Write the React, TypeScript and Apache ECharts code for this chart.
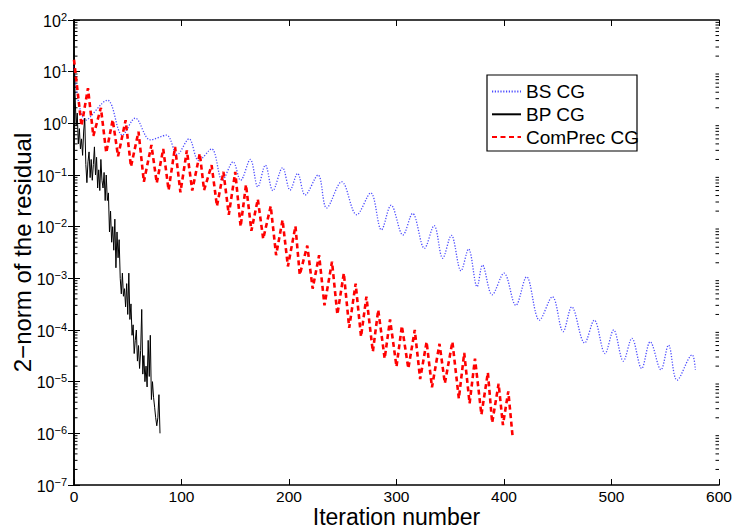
import React, { useEffect, useRef } from "react";
import * as echarts from "echarts";

const FONT = "Liberation Sans, Arial, Helvetica, sans-serif";

// x-axis ticks (iteration number)
const xTicks = [0, 100, 200, 300, 400, 500, 600];
// y-axis decades
const yMin = 1e-7;
const yMax = 1e2;

// BS CG (blue dotted) — peaks / troughs
const bsIter = [0, 11, 31, 45, 57, 71, 86, 96, 107, 116, 128, 138, 148, 155, 164, 171, 178, 185, 194, 201, 208, 215, 227, 235, 249, 263, 276, 286, 295, 306, 315, 326, 335, 343, 351, 360, 367, 375, 380, 389, 400, 411, 421, 433, 445, 455, 463, 475, 484, 494, 502, 511, 519, 528, 536, 546, 553, 561, 575, 578];
const bsRes = [12.6, 1.15, 2.8, 0.59, 1.26, 0.48, 0.59, 0.25, 0.5, 0.19, 0.32, 0.079, 0.18, 0.079, 0.2, 0.059, 0.155, 0.05, 0.138, 0.051, 0.107, 0.041, 0.1, 0.023, 0.074, 0.017, 0.045, 0.0087, 0.026, 0.0069, 0.018, 0.0038, 0.0105, 0.00245, 0.0068, 0.0014, 0.0037, 6.9e-4, 0.0018, 4.8e-4, 0.00126, 3.0e-4, 0.00107, 1.55e-4, 4.4e-4, 9.3e-5, 2.8e-4, 5.6e-5, 1.55e-4, 3.5e-5, 1.0e-4, 2.5e-5, 6.9e-5, 1.8e-5, 5.9e-5, 1.7e-5, 5.1e-5, 1.07e-5, 3.3e-5, 1.7e-5];

// BP CG (black solid) — one value per iteration 0..80
const bpRes = [22.4, 3.55, 0.89, 1.58, 0.4, 0.79, 0.32, 0.5, 0.24, 0.71, 1.26, 0.16, 0.071, 0.18, 0.28, 0.089, 0.2, 0.079, 0.16, 0.35, 0.1, 0.22, 0.056, 0.126, 0.05, 0.2, 0.079, 0.056, 0.112, 0.032, 0.1, 0.032, 0.045, 0.0079, 0.02, 0.005, 0.01, 0.0035, 0.014, 0.0016, 0.0079, 0.0025, 0.0056, 0.001, 5.0e-4, 1.26e-3, 4.5e-4, 6.3e-4, 2.8e-4, 7.9e-4, 2.0e-4, 1.26e-3, 1.6e-4, 3.2e-4, 7.9e-5, 1.26e-4, 3.5e-5, 6.3e-5, 1.0e-4, 2.5e-5, 5.0e-5, 1.8e-5, 4.0e-5, 2.5e-4, 1.4e-5, 3.2e-5, 1.0e-5, 2.0e-5, 7.9e-6, 6.3e-5, 1.26e-5, 7.9e-5, 4.5e-6, 1.0e-5, 5.0e-6, 3.2e-6, 2.0e-6, 1.4e-6, 2.0e-6, 5.6e-6, 1.0e-6];

// ComPrec CG (red dashed) — peaks / troughs
const cpIter = [0, 7, 13, 18, 25, 30, 36, 41, 48, 53, 60, 65, 72, 77, 83, 88, 94, 99, 105, 110, 117, 121, 128, 133, 139, 144, 150, 155, 160, 165, 171, 176, 183, 188, 194, 199, 206, 210, 217, 222, 228, 233, 240, 245, 251, 256, 262, 267, 272, 278, 283, 289, 294, 300, 305, 311, 317, 322, 328, 333, 340, 345, 352, 358, 363, 368, 373, 379, 385, 389, 395, 399, 404, 408];
const cpRes = [17, 0.89, 4.8, 0.57, 2.0, 0.27, 1.17, 0.23, 1.15, 0.145, 0.69, 0.074, 0.38, 0.07, 0.32, 0.051, 0.35, 0.046, 0.3, 0.05, 0.26, 0.051, 0.155, 0.025, 0.115, 0.017, 0.115, 0.01, 0.065, 0.0083, 0.034, 0.0058, 0.025, 0.0028, 0.0135, 0.0017, 0.0102, 0.00117, 0.0043, 6.3e-4, 0.0028, 3.0e-4, 0.0021, 2.0e-4, 0.00126, 1.1e-4, 7.9e-4, 7.4e-5, 4.4e-4, 3.8e-5, 2.45e-4, 2.8e-5, 1.6e-4, 1.95e-5, 1.2e-4, 1.8e-5, 1.0e-4, 1.12e-5, 5.9e-5, 7.8e-6, 5.4e-5, 9.3e-6, 5.9e-5, 4.7e-6, 3.6e-5, 3.8e-6, 2.8e-5, 2.3e-6, 1.5e-5, 1.6e-6, 9.1e-6, 1.45e-6, 6.5e-6, 8.7e-7];

const legendNames = ["BS CG", "BP CG", "ComPrec CG"];

export default function App() {
  const ref = useRef<HTMLDivElement>(null);

  useEffect(() => {
    if (!ref.current) return;
    const chart = echarts.init(ref.current, null, { renderer: "svg" });

    const minorTicks: number[][] = [];
    for (let k = -7; k < 2; k++) {
      for (let m = 2; m <= 9; m++) {
        minorTicks.push([0, m * Math.pow(10, k)]);
      }
    }

    const yLabel = (v: number) => {
      const e = Math.round(Math.log10(v));
      const s = e < 0 ? "\u2212" + -e : String(e);
      return "{b|10}{s|" + s + "}";
    };

    const axisLine = { show: true, lineStyle: { color: "#000", width: 1.6 } };

    const option: any = {
      animation: false,
      backgroundColor: "#fff",
      grid: { left: 74, right: 14, top: 20, bottom: 46, containLabel: false, outerBoundsMode: "none" },
      legend: {
        data: legendNames,
        orient: "vertical",
        left: 491,
        top: 82,
        padding: 0,
        itemWidth: 29,
        itemHeight: 14,
        itemGap: 3.8,
        itemStyle: { opacity: 0, borderWidth: 0 },
        textStyle: { fontSize: 19, fontFamily: FONT, color: "#000", lineHeight: 19 },
      },
      graphic: [
        {
          type: "rect",
          shape: { x: 487, y: 75, width: 150, height: 76 },
          style: { fill: "none", stroke: "#000", lineWidth: 1.2 },
          silent: true,
        },
      ],
      xAxis: [
        {
          type: "value",
          min: xTicks[0],
          max: xTicks[xTicks.length - 1],
          interval: 100,
          position: "bottom",
          name: "Iteration number",
          nameLocation: "middle",
          nameGap: 22,
          nameMoveOverlap: false,
          nameTextStyle: { fontSize: 23, lineHeight: 19, fontFamily: FONT, color: "#000" },
          axisLine,
          axisTick: { show: true, inside: true, length: 6, lineStyle: { color: "#000", width: 1 } },
          axisLabel: { fontSize: 15.5, lineHeight: 15, fontFamily: FONT, color: "#000", margin: 4 },
          splitLine: { show: false },
        },
        {
          type: "value",
          min: xTicks[0],
          max: xTicks[xTicks.length - 1],
          interval: 100,
          position: "top",
          axisLine,
          axisTick: { show: true, inside: true, length: 6, lineStyle: { color: "#000", width: 1 } },
          axisLabel: { show: false },
          splitLine: { show: false },
        },
      ],
      yAxis: [
        {
          type: "log",
          logBase: 10,
          min: yMin,
          max: yMax,
          interval: 1,
          position: "left",
          name: "2\u2212norm of the residual",
          nameLocation: "middle",
          nameRotate: 90,
          nameGap: 40,
          nameMoveOverlap: false,
          nameTextStyle: { fontSize: 24, fontFamily: FONT, color: "#000" },
          axisLine,
          axisTick: { show: true, inside: true, length: 6, lineStyle: { color: "#000", width: 1 } },
          axisLabel: {
            margin: 7,
            formatter: yLabel,
            rich: {
              b: { fontSize: 16, fontFamily: FONT, color: "#000", lineHeight: 18, verticalAlign: "bottom" },
              s: { fontSize: 11, fontFamily: FONT, color: "#000", lineHeight: 18, verticalAlign: "top" },
            },
          },
          splitLine: { show: false },
        },
        {
          type: "log",
          logBase: 10,
          min: yMin,
          max: yMax,
          interval: 1,
          position: "right",
          axisLine,
          axisTick: { show: true, inside: true, length: 6, lineStyle: { color: "#000", width: 1 } },
          axisLabel: { show: false },
          splitLine: { show: false },
        },
      ],
      series: [
        {
          name: "BS CG",
          type: "line",
          xAxisIndex: 0,
          yAxisIndex: 0,
          symbol: "none",
          smooth: 0.35,
          data: bsIter.map((x, i) => [x, bsRes[i]]),
          lineStyle: { color: "#4a4aff", width: 1.3, type: [1.2, 1.6] },
          itemStyle: { color: "#4a4aff" },
          z: 2,
        },
        {
          name: "BP CG",
          type: "line",
          xAxisIndex: 0,
          yAxisIndex: 0,
          symbol: "none",
          data: bpRes.map((v, i) => [i, v]),
          lineStyle: { color: "#000", width: 1 },
          itemStyle: { color: "#000" },
          z: 3,
        },
        {
          name: "ComPrec CG",
          type: "line",
          xAxisIndex: 0,
          yAxisIndex: 0,
          symbol: "none",
          data: cpIter.map((x, i) => [x, cpRes[i]]),
          lineStyle: { color: "#ff0000", width: 2.6, type: [5, 3.5] },
          itemStyle: { color: "#ff0000" },
          z: 4,
        },
        {
          name: "minor",
          type: "custom",
          xAxisIndex: 0,
          yAxisIndex: 0,
          silent: true,
          clip: false,
          data: minorTicks,
          renderItem: (params: any, api: any) => {
            const v = api.value(1);
            const pl = api.coord([xTicks[0], v]);
            const pr = api.coord([xTicks[xTicks.length - 1], v]);
            return {
              type: "group",
              children: [
                {
                  type: "line",
                  shape: { x1: pl[0], y1: pl[1], x2: pl[0] + 3.5, y2: pl[1] },
                  style: { stroke: "#000", lineWidth: 1 },
                },
                {
                  type: "line",
                  shape: { x1: pr[0] - 3.5, y1: pr[1], x2: pr[0], y2: pr[1] },
                  style: { stroke: "#000", lineWidth: 1 },
                },
              ],
            };
          },
        },
      ],
    };

    chart.setOption(option);
    return () => chart.dispose();
  }, []);

  return (
    <div
      ref={ref}
      style={{ position: "fixed", left: 0, top: 0, width: 733, height: 531, background: "#fff" }}
    />
  );
}
